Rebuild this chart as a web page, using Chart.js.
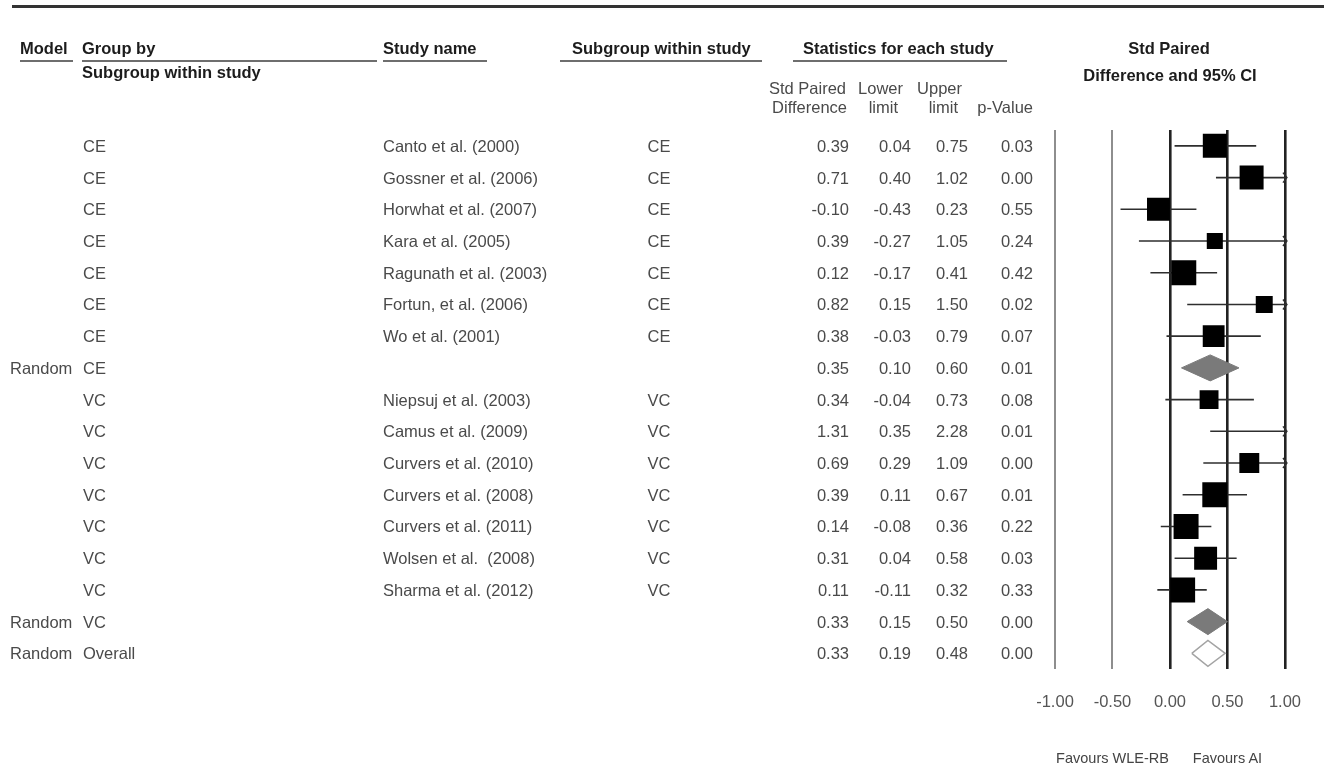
<!DOCTYPE html>
<html>
<head>
<meta charset="utf-8">
<script src="https://cdn.jsdelivr.net/npm/chart.js@4.4.1/dist/chart.umd.min.js"></script>
<style>
  html, body { margin: 0; padding: 0; background: #fff; }
  #stage { position: relative; width: 1324px; height: 771px; overflow: hidden;
           font-family: "Liberation Sans", Arial, Helvetica, sans-serif; }
  #plot { position: absolute; left: 0; top: 0; }
  .t { position: absolute; white-space: pre; line-height: 1; font-size: 16.5px; color: #4a4a4a; }
  .h { font-weight: bold; font-size: 16.5px; color: #1c1c1c; }
  .fav { font-size: 14.5px; color: #444; }
  .rule { position: absolute; height: 2px; background: #6e6e6e; }
  .topbar { position: absolute; left: 12px; right: 0; top: 5px; height: 3px; background: #333; }
</style>
</head>
<body>
<div id="stage">
  <div class="topbar"></div>
  <canvas id="plot" width="1324" height="771"></canvas>
</div>
<script>
// Table columns, one entry per row (studies, subgroup summaries, overall)
const modelCol    = ['', '', '', '', '', '', '', 'Random', '', '', '', '', '', '', '', 'Random', 'Random'];
const groupCol    = ['CE', 'CE', 'CE', 'CE', 'CE', 'CE', 'CE', 'CE',
                     'VC', 'VC', 'VC', 'VC', 'VC', 'VC', 'VC', 'VC', 'Overall'];
const studyNames  = ['Canto et al. (2000)', 'Gossner et al. (2006)', 'Horwhat et al. (2007)',
                     'Kara et al. (2005)', 'Ragunath et al. (2003)', 'Fortun, et al. (2006)',
                     'Wo et al. (2001)', '',
                     'Niepsuj et al. (2003)', 'Camus et al. (2009)', 'Curvers et al. (2010)',
                     'Curvers et al. (2008)', 'Curvers et al. (2011)', 'Wolsen et al.  (2008)',
                     'Sharma et al. (2012)', '', ''];
const subgroupCol = ['CE', 'CE', 'CE', 'CE', 'CE', 'CE', 'CE', '',
                     'VC', 'VC', 'VC', 'VC', 'VC', 'VC', 'VC', '', ''];
const rowKind     = ['study', 'study', 'study', 'study', 'study', 'study', 'study', 'subtotal',
                     'study', 'study', 'study', 'study', 'study', 'study', 'study', 'subtotal', 'overall'];

// Std paired difference with 95% CI and p-value
const effect     = [0.39, 0.71, -0.10, 0.39, 0.12, 0.82, 0.38, 0.35,
                    0.34, 1.31, 0.69, 0.39, 0.14, 0.31, 0.11, 0.33, 0.33];
const lowerLimit = [0.04, 0.40, -0.43, -0.27, -0.17, 0.15, -0.03, 0.10,
                    -0.04, 0.35, 0.29, 0.11, -0.08, 0.04, -0.11, 0.15, 0.19];
const upperLimit = [0.75, 1.02, 0.23, 1.05, 0.41, 1.50, 0.79, 0.60,
                    0.73, 2.28, 1.09, 0.67, 0.36, 0.58, 0.32, 0.50, 0.48];
const pValue     = [0.03, 0.00, 0.55, 0.24, 0.42, 0.02, 0.07, 0.01,
                    0.08, 0.01, 0.00, 0.01, 0.22, 0.03, 0.33, 0.00, 0.00];

// Relative study weights (box area is proportional to weight)
const studyWeight = [5.8, 5.8, 5.3, 2.6, 6.3, 2.9, 4.8, null,
                     3.6, 2.0, 4.0, 6.3, 6.3, 5.3, 6.3, null, null];

// Axis
const axisTicks = [-1.0, -0.5, 0.0, 0.5, 1.0];
const axisMin = -1.0, axisMax = 1.0;
const favourLeft = 'Favours WLE-RB', favourRight = 'Favours AI';

const FONT = '"Liberation Sans", Arial, Helvetica, sans-serif';
const MAX_BOX = 25;          // side of the heaviest box, px
const DIAMOND_HALF = 0.41;   // half height of summary diamonds, in rows
const maxWeight = Math.max(...studyWeight.filter(w => w != null));

const rows = effect.map((_, i) => i);
const studyIdx = rows.filter(i => rowKind[i] === 'study');
const summaryIdx = rows.filter(i => rowKind[i] !== 'study');

const ciSets = studyIdx.map(i => ({
  type: 'line',
  data: [{ x: lowerLimit[i], y: i }, { x: upperLimit[i], y: i }],
  showLine: true,
  borderColor: '#2e2e2e',
  borderWidth: 1.6,
  pointRadius: 0,
  fill: false,
  clip: { left: 4, right: 1, top: 30, bottom: 30 },
  order: 3
}));

const boxSet = {
  type: 'scatter',
  data: studyIdx.map(i => ({ x: effect[i], y: i, w: studyWeight[i] })),
  pointStyle: 'rect',
  pointRadius: ctx => (MAX_BOX * Math.sqrt(ctx.raw.w / maxWeight)) / Math.SQRT2,
  backgroundColor: '#000',
  borderColor: '#000',
  borderWidth: 0,
  clip: { left: 0, right: 0, top: 30, bottom: 30 },
  order: 1
};

const diamondSets = summaryIdx.map(i => {
  const hollow = rowKind[i] === 'overall';
  return {
    type: 'line',
    data: [
      { x: lowerLimit[i], y: i },
      { x: effect[i], y: i - DIAMOND_HALF },
      { x: upperLimit[i], y: i },
      { x: effect[i], y: i + DIAMOND_HALF },
      { x: lowerLimit[i], y: i }
    ],
    showLine: true,
    fill: 'shape',
    tension: 0,
    backgroundColor: hollow ? '#ffffff' : '#7a7a7a',
    borderColor: hollow ? '#a4a4a4' : '#7a7a7a',
    borderWidth: hollow ? 1.5 : 1,
    pointRadius: 0,
    order: 2
  };
});

// Open arrowheads where a confidence interval runs past the axis
const ciArrows = {
  id: 'ciArrows',
  afterDatasetsDraw(chart) {
    const { ctx, scales: { x, y } } = chart;
    ctx.save();
    ctx.strokeStyle = '#2e2e2e';
    ctx.lineWidth = 1.4;
    studyIdx.forEach(i => {
      if (upperLimit[i] > axisMax) {
        const px = x.getPixelForValue(axisMax) + 2;
        const py = y.getPixelForValue(i);
        ctx.beginPath();
        ctx.moveTo(px - 4, py - 5);
        ctx.lineTo(px, py);
        ctx.lineTo(px - 4, py + 5);
        ctx.stroke();
      }
    });
    ctx.restore();
  }
};

const chart = new Chart(document.getElementById('plot'), {
  type: 'scatter',
  data: { datasets: [boxSet, ...diamondSets, ...ciSets] },
  options: {
    responsive: false,
    animation: false,
    events: [],
    layout: { padding: { left: 1055, right: 37, top: 130, bottom: 36 } },
    plugins: { legend: { display: false }, tooltip: { enabled: false } },
    scales: {
      x: {
        type: 'linear',
        min: axisMin,
        max: axisMax,
        afterBuildTicks: s => { s.ticks = axisTicks.map(v => ({ value: v })); },
        grid: {
          drawTicks: false,
          color: c => (c.tick && c.tick.value < 0) ? '#8e8e8e' : '#222',
          lineWidth: c => (c.tick && c.tick.value < 0) ? 2 : 2.6
        },
        border: { display: false },
        ticks: {
          padding: 23,
          color: '#555',
          autoSkip: false,
          maxRotation: 0,
          font: { size: 16.5, family: FONT },
          callback: v => Number(v).toFixed(2)
        }
      },
      y: { type: 'linear', min: -0.5, max: 16.5, reverse: true, display: false }
    }
  },
  plugins: [ciArrows]
});

// ---- table text ----
const stage = document.getElementById('stage');
function place(text, x, y, align, cls) {
  const el = document.createElement('div');
  el.className = 't' + (cls ? ' ' + cls : '');
  el.textContent = text;
  el.style.left = x + 'px';
  el.style.top = y + 'px';
  const tx = align === 'right' ? '-100%' : align === 'center' ? '-50%' : '0';
  el.style.transform = 'translate(' + tx + ',-50%)';
  stage.appendChild(el);
}
function rule(x0, x1, y) {
  const el = document.createElement('div');
  el.className = 'rule';
  el.style.left = x0 + 'px';
  el.style.width = (x1 - x0) + 'px';
  el.style.top = y + 'px';
  stage.appendChild(el);
}

// column headers
place('Model', 20, 48, 'left', 'h');
place('Group by', 82, 48, 'left', 'h');
place('Subgroup within study', 82, 72, 'left', 'h');
place('Study name', 383, 48, 'left', 'h');
place('Subgroup within study', 572, 48, 'left', 'h');
place('Statistics for each study', 803, 48, 'left', 'h');
place('Std Paired', 1169, 48, 'center', 'h');
place('Difference and 95% CI', 1170, 75, 'center', 'h');
rule(20, 73, 60);
rule(82, 377, 60);
rule(383, 487, 60);
rule(560, 762, 60);
rule(793, 1007, 60);

place('Std Paired', 846, 88, 'right');
place('Difference', 847, 107, 'right');
place('Lower', 903, 88, 'right');
place('limit', 898, 107, 'right');
place('Upper', 962, 88, 'right');
place('limit', 958, 107, 'right');
place('p-Value', 1033, 107, 'right');

// rows, aligned to the plot's row scale
const yScale = chart.scales.y;
rows.forEach(i => {
  const py = yScale.getPixelForValue(i);
  if (modelCol[i]) place(modelCol[i], 10, py, 'left');
  place(groupCol[i], 83, py, 'left');
  if (studyNames[i]) place(studyNames[i], 383, py, 'left');
  if (subgroupCol[i]) place(subgroupCol[i], 659, py, 'center');
  place(effect[i].toFixed(2), 849, py, 'right');
  place(lowerLimit[i].toFixed(2), 911, py, 'right');
  place(upperLimit[i].toFixed(2), 968, py, 'right');
  place(pValue[i].toFixed(2), 1033, py, 'right');
});

// direction labels under the axis
const xScale = chart.scales.x;
place(favourLeft, xScale.getPixelForValue(-0.5), 758, 'center', 'fav');
place(favourRight, xScale.getPixelForValue(0.5), 758, 'center', 'fav');
</script>
</body>
</html>
